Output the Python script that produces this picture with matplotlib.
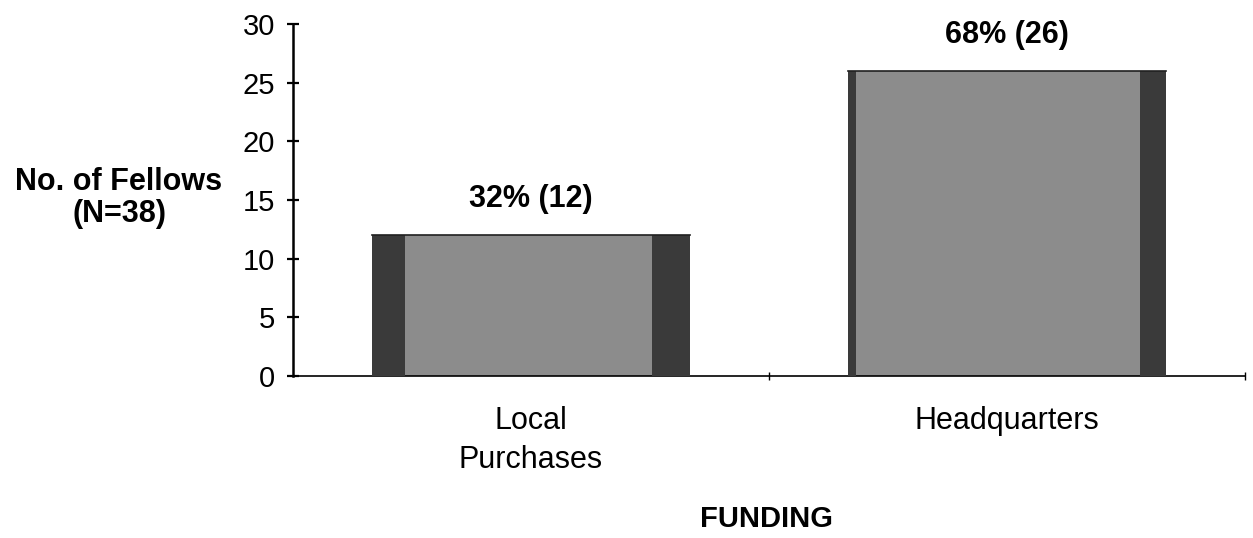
import matplotlib
matplotlib.use("Agg")
import matplotlib.pyplot as plt

plt.rcParams['font.family'] = ['Liberation Sans', 'DejaVu Sans']

categories = ["Local\nPurchases", "Headquarters"]
fellows = [12, 26]
percent_labels = ["32% (12)", "68% (26)"]
y_ticks = [0, 5, 10, 15, 20, 25, 30]

fig = plt.figure(figsize=(12.53, 5.38), dpi=100)
ax = fig.add_axes([0.2338, 0.3011, 0.7598, 0.6543])

x = list(range(len(categories)))
width = 0.667
face = "#8c8c8c"
shade = "#3a3a3a"

# main bar body
ax.bar(x, fellows, width=width, color=face, edgecolor="none", zorder=2)
# darker shading bands on the bar sides
left_band = [0.069, 0.017]
right_band = [0.080, 0.055]
for xi, h, lb, rb in zip(x, fellows, left_band, right_band):
    ax.bar(xi - width / 2, h, width=lb, align="edge", color=shade, edgecolor="none", zorder=3)
    ax.bar(xi + width / 2 - rb, h, width=rb, align="edge", color=shade, edgecolor="none", zorder=3)
    ax.plot([xi - width / 2, xi + width / 2], [h, h], color="#202020", lw=1.2, zorder=4)

for xi, h, lab in zip(x, fellows, percent_labels):
    ax.text(xi, h + 3.1, lab, ha="center", va="center", fontsize=22, fontweight="bold")

ax.set_xlim(-0.5, 1.5)
ax.set_ylim(0, 30)
ax.set_yticks(y_ticks)
ax.set_yticklabels([str(t) for t in y_ticks], fontsize=21)
ax.set_xticks([0.5, 1.5])
ax.set_xticklabels([])
ax.tick_params(axis="y", direction="inout", length=8, width=1.6, pad=9)
ax.tick_params(axis="x", direction="inout", length=6, width=1.0)

for s in ["top", "right"]:
    ax.spines[s].set_visible(False)
ax.spines["left"].set_linewidth(1.8)
ax.spines["bottom"].set_linewidth(1.2)

for xi, cat in zip(x, categories):
    ax.text(xi, -2.55, cat, ha="center", va="top", fontsize=22, linespacing=1.38)

fig.text(0.095, 0.632, "No. of Fellows\n(N=38)", ha="center", va="center",
         fontsize=22, fontweight="bold", linespacing=1.08)
fig.text(0.612, 0.035, "FUNDING", ha="center", va="center", fontsize=21, fontweight="bold")

fig.savefig("out.png", dpi=100)
